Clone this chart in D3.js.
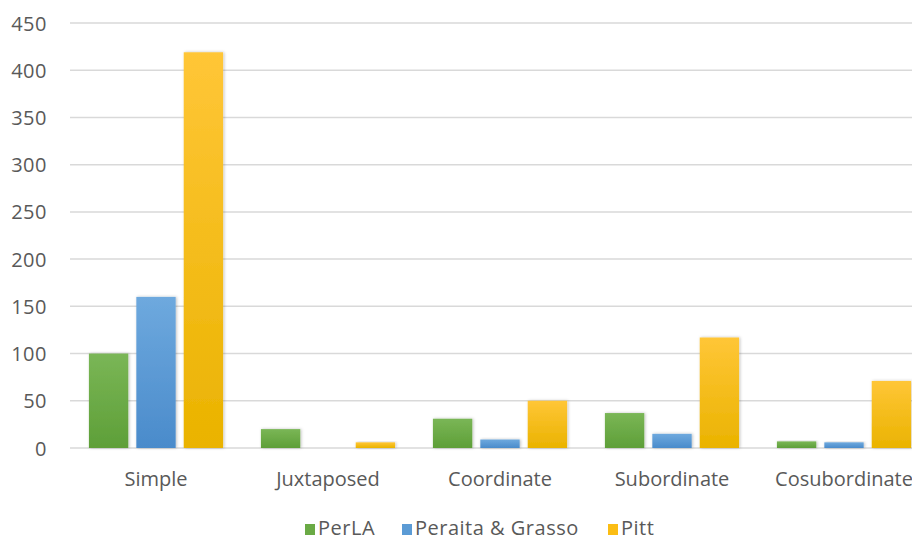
<!DOCTYPE html>
<html>
<head>
<meta charset="utf-8">
<script src="https://cdn.jsdelivr.net/npm/d3@7"></script>
<style>
  body { margin: 0; background: #fff; }
  text { font-family: "Open Sans", sans-serif; fill: #595959; }
</style>
</head>
<body>
<svg id="chart"></svg>
<script>
const categories = ["Simple", "Juxtaposed", "Coordinate", "Subordinate", "Cosubordinate"];
const seriesNames = ["PerLA", "Peraita & Grasso", "Pitt"];
const perla = [100, 20, 31, 37, 7];
const peraita = [160, 0, 9, 15, 6];
const pitt = [419, 6, 50, 117, 71];
const yTicks = [0, 50, 100, 150, 200, 250, 300, 350, 400, 450];

const ctx = {
  width: 912,
  height: 542,
  left: 70,
  right: 930,
  top: 23,
  bottom: 448,
  colors: [
    { id: "g-perla", top: "#7ab656", bottom: "#5e9f38", swatch: "#6aaa45" },
    { id: "g-peraita", top: "#6ea9de", bottom: "#4a8bcb", swatch: "#5b9bd5" },
    { id: "g-pitt", top: "#ffc637", bottom: "#eab300", swatch: "#fbbd14" }
  ]
};

const values = [perla, peraita, pitt];
const data = categories.map((c, i) => ({
  cat: c,
  vals: seriesNames.map((s, j) => ({ series: j, value: values[j][i] }))
}));

const svg = d3.select("#chart")
  .attr("width", ctx.width)
  .attr("height", ctx.height);

const defs = svg.append("defs");
ctx.colors.forEach(c => {
  const g = defs.append("linearGradient")
    .attr("id", c.id)
    .attr("x1", 0).attr("y1", 0).attr("x2", 0).attr("y2", 1);
  g.append("stop").attr("offset", "0%").attr("stop-color", c.top);
  g.append("stop").attr("offset", "100%").attr("stop-color", c.bottom);
});
const shadow = defs.append("filter").attr("id", "shadow")
  .attr("x", "-20%").attr("y", "-20%").attr("width", "140%").attr("height", "140%");
shadow.append("feDropShadow")
  .attr("dx", 1).attr("dy", 0).attr("stdDeviation", 1.5)
  .attr("flood-color", "#000").attr("flood-opacity", 0.25);

const x = d3.scaleBand()
  .domain(categories)
  .range([ctx.left, ctx.right])
  .paddingInner(0.22)
  .paddingOuter(0.11);

const xInner = d3.scaleBand()
  .domain(d3.range(seriesNames.length))
  .range([0, x.bandwidth()])
  .paddingInner(0.17);

const y = d3.scaleLinear()
  .domain([0, 450])
  .range([ctx.bottom, ctx.top]);

// gridlines
svg.append("g")
  .selectAll("line")
  .data(yTicks)
  .enter()
  .append("line")
    .attr("x1", ctx.left)
    .attr("x2", ctx.width)
    .attr("y1", d => y(d))
    .attr("y2", d => y(d))
    .attr("stroke", "#d9d9d9")
    .attr("stroke-width", 1.5);

// y axis labels
const yAxis = svg.append("g")
  .attr("transform", `translate(${ctx.left - 23}, 0)`)
  .call(d3.axisLeft(y).tickValues(yTicks).tickSize(0).tickPadding(0));
yAxis.select(".domain").remove();
yAxis.selectAll("text")
  .style("font-size", "20px")
  .style("letter-spacing", "0.5px")
  .attr("dy", "0.35em")
  .attr("fill", "#595959");

// bars
const groups = svg.append("g")
  .selectAll("g")
  .data(data)
  .enter()
  .append("g")
    .attr("transform", d => `translate(${x(d.cat)}, 0)`);

groups.selectAll("rect")
  .data(d => d.vals.filter(v => v.value > 0))
  .enter()
  .append("rect")
    .attr("x", d => xInner(d.series))
    .attr("y", d => y(d.value))
    .attr("width", xInner.bandwidth())
    .attr("height", d => y(0) - y(d.value))
    .attr("fill", d => `url(#${ctx.colors[d.series].id})`)
    .attr("filter", "url(#shadow)");

// x axis labels
const xAxis = svg.append("g")
  .attr("transform", `translate(0, ${ctx.bottom + 24})`)
  .call(d3.axisBottom(x).tickSize(0).tickPadding(0));
xAxis.select(".domain").remove();
xAxis.selectAll("text")
  .style("font-size", "20px")
  .attr("dy", "0.71em")
  .attr("fill", "#595959");

// legend
const legendX = [305, 402, 608];
const legend = svg.append("g")
  .selectAll("g")
  .data(seriesNames)
  .enter()
  .append("g")
    .attr("transform", (d, i) => `translate(${legendX[i]}, 528)`);

legend.append("rect")
  .attr("x", 0)
  .attr("y", -4)
  .attr("width", 10)
  .attr("height", 11)
  .attr("fill", (d, i) => ctx.colors[i].swatch);

legend.append("text")
  .attr("x", 13)
  .attr("y", 0)
  .attr("dy", "0.35em")
  .style("font-size", "20px")
  .style("letter-spacing", "0.5px")
  .text(d => d);
</script>
</body>
</html>
